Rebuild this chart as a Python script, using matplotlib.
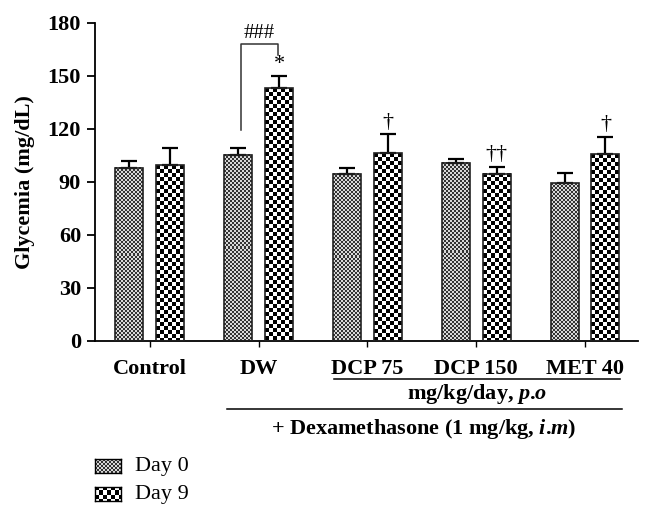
import numpy as np
import matplotlib.pyplot as plt
import matplotlib.transforms as mtransforms
from matplotlib.lines import Line2D

plt.rcParams['font.family'] = ['Liberation Serif', 'DejaVu Serif']
plt.rcParams['mathtext.fontset'] = 'custom'
plt.rcParams['mathtext.rm'] = 'Liberation Serif:bold'
plt.rcParams['mathtext.it'] = 'Liberation Serif:italic:bold'

groups = ['Control', 'DW', 'DCP 75', 'DCP 150', 'MET 40']
day0 = [98.0, 105.3, 94.6, 100.8, 89.3]
day0_err = [3.7, 3.7, 3.4, 2.2, 5.5]
day9 = [99.3, 143.0, 106.4, 94.6, 105.8]
day9_err = [9.9, 6.7, 10.4, 3.8, 9.5]
day9_marks = ['', '*', '\u2020', '\u2020\u2020', '\u2020']
yticks = [0, 30, 60, 90, 120, 150, 180]

W, H = 654, 520
fig = plt.figure(figsize=(W / 100, H / 100), dpi=100)
ax = fig.add_axes([95 / W, 1 - 340.7 / H, 543 / W, 318 / H])
ax.set_xlim(-0.504, 4.487)
ax.set_ylim(0, 180)

x = np.arange(len(groups))
bw = 0.257
off = 0.188


def checker(rows, cols, sq, c1, c2):
    i = np.arange(rows)[:, None] // sq
    j = np.arange(cols)[None, :] // sq
    m = (i + j) % 2
    a = np.array(c1)[None, None, :] * (1 - m[..., None]) + np.array(c2)[None, None, :] * m[..., None]
    return a


def fill_bar(rect, sq, c1, c2):
    x0, y0 = rect.get_x(), rect.get_y()
    x1, y1 = x0 + rect.get_width(), y0 + rect.get_height()
    p0 = ax.transData.transform((x0, y0))
    p1 = ax.transData.transform((x1, y1))
    cols = max(int(round(p1[0] - p0[0])), 1)
    rows = max(int(round(p1[1] - p0[1])), 1)
    ax.imshow(checker(rows, cols, sq, c1, c2), extent=(x0, x1, y0, y1),
              interpolation='nearest', aspect='auto', zorder=1)


dark0, light0 = (0.2, 0.2, 0.2), (0.85, 0.85, 0.85)
dark9, light9 = (0.0, 0.0, 0.0), (1.0, 1.0, 1.0)

ax.errorbar(x - off, day0, yerr=[np.zeros(5), day0_err], fmt='none', ecolor='black',
            elinewidth=1.6, capsize=5.5, capthick=1.6, zorder=2)
ax.errorbar(x + off, day9, yerr=[np.zeros(5), day9_err], fmt='none', ecolor='black',
            elinewidth=1.6, capsize=5.5, capthick=1.6, zorder=2)
b0 = ax.bar(x - off, day0, bw, facecolor='none', edgecolor='#222222', linewidth=1.2, zorder=3)
b9 = ax.bar(x + off, day9, bw, facecolor='none', edgecolor='#222222', linewidth=1.2, zorder=3)
for r in b0:
    fill_bar(r, 2, dark0, light0)
for r in b9:
    fill_bar(r, 4, dark9, light9)
ax.set_xlim(-0.504, 4.487)
ax.set_ylim(0, 180)

# significance marks
for xi, v, e, s in zip(x + off, day9, day9_err, day9_marks):
    if s:
        ax.text(xi, v + e + 1.5, s, ha='center', va='bottom', fontsize=16)
ax.plot([1 - 0.165, 1 - 0.165, 1.178, 1.178], [119.2, 167.7, 167.7, 161.7],
        color='#333333', linewidth=1.1, zorder=2)
ax.text((1 - 0.165 + 1.178) / 2, 168.5, '###', ha='center', va='bottom', fontsize=15)

# axes styling
for s in ['top', 'right']:
    ax.spines[s].set_visible(False)
for s in ['left', 'bottom']:
    ax.spines[s].set_linewidth(1.3)
ax.set_yticks(yticks)
ax.set_yticklabels([str(t) for t in yticks], fontsize=16, fontweight='bold')
ax.tick_params(axis='y', length=6, width=1.3, pad=4)
ax.set_xticks(x)
ax.set_xticklabels(groups, fontsize=16, fontweight='bold')
ax.tick_params(axis='x', length=4, width=1.0, pad=9)
ax.set_ylabel('Glycemia (mg/dL)', fontsize=16, fontweight='bold', labelpad=9)

# group annotations below the axis
tr = mtransforms.blended_transform_factory(ax.transData, fig.transFigure)
fig.add_artist(Line2D([1.696, 4.32], [1 - 379 / H] * 2, transform=tr, color='black', lw=1.1))
fig.text((1.696 + 4.32) / 2, 1 - 394 / H, r'mg/kg/day, $\mathit{p}$.$\mathit{o}$', transform=tr,
         ha='center', va='center', fontsize=16, fontweight='bold')
fig.add_artist(Line2D([0.707, 4.337], [1 - 408.5 / H] * 2, transform=tr, color='black', lw=1.1))
fig.text((0.707 + 4.337) / 2, 1 - 429 / H, r'+ Dexamethasone (1 mg/kg, $\mathit{i}$.$\mathit{m}$)',
         transform=tr, ha='center', va='center', fontsize=16, fontweight='bold')

# legend
for (y_top, lab, sq, c1, c2) in [(459, 'Day 0', 2, dark0, light0), (487, 'Day 9', 4, dark9, light9)]:
    lax = fig.add_axes([95 / W, 1 - (y_top + 14) / H, 26 / W, 14 / H])
    lax.imshow(checker(14, 26, sq, c1, c2), interpolation='nearest', aspect='auto')
    lax.set_xticks([])
    lax.set_yticks([])
    for s in lax.spines.values():
        s.set_linewidth(1.0)
    fig.text(135 / W, 1 - (y_top + 7) / H, lab, ha='left', va='center', fontsize=16)

fig.savefig('out.png', dpi=100)
